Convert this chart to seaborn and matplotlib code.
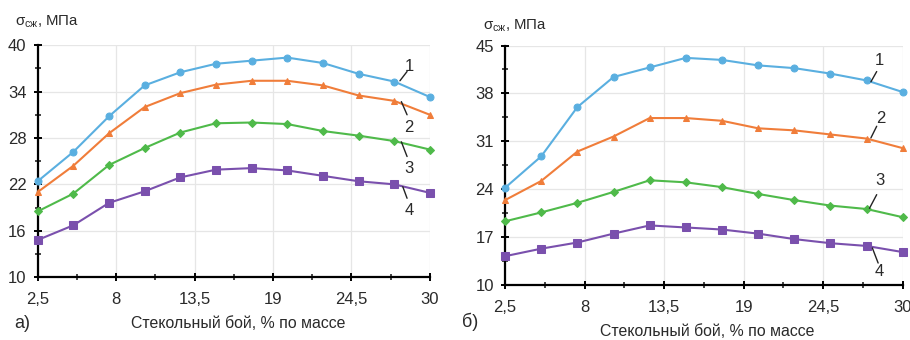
import numpy as np
import pandas as pd
import matplotlib
matplotlib.use("Agg")
import matplotlib.pyplot as plt
from matplotlib.ticker import FixedLocator
import seaborn as sns

sns.set_style("white")
plt.rcParams['font.family'] = ['Liberation Sans', 'DejaVu Sans']
plt.rcParams['mathtext.fontset'] = 'custom'
plt.rcParams['mathtext.rm'] = 'Liberation Sans'
plt.rcParams['mathtext.it'] = 'Liberation Sans'

# Glass cullet content, % by mass
cullet = [2.5, 5, 7.5, 10, 12.5, 15, 17.5, 20, 22.5, 25, 27.5, 30]

# panel a)
a_1 = [22.4, 26.2, 30.8, 34.8, 36.5, 37.6, 38.0, 38.4, 37.7, 36.3, 35.3, 33.3]
a_2 = [21.0, 24.4, 28.6, 32.0, 33.8, 34.9, 35.4, 35.4, 34.8, 33.5, 32.8, 31.0]
a_3 = [18.5, 20.8, 24.5, 26.7, 28.7, 29.9, 30.0, 29.8, 28.9, 28.3, 27.6, 26.5]
a_4 = [14.8, 16.7, 19.6, 21.1, 22.9, 23.9, 24.1, 23.8, 23.1, 22.4, 22.0, 20.9]

# panel б)
b_1 = [24.2, 28.8, 36.0, 40.4, 41.8, 43.2, 42.9, 42.1, 41.7, 40.9, 39.9, 38.2]
b_2 = [22.4, 25.2, 29.5, 31.7, 34.4, 34.4, 34.0, 32.9, 32.6, 32.0, 31.4, 30.0]
b_3 = [19.3, 20.6, 22.0, 23.6, 25.3, 25.0, 24.3, 23.3, 22.4, 21.6, 21.1, 19.9]
b_4 = [14.2, 15.3, 16.2, 17.5, 18.7, 18.4, 18.1, 17.5, 16.7, 16.1, 15.7, 14.8]

x_ticks = [2.5, 8, 13.5, 19, 24.5, 30]
x_tick_labels = ['2,5', '8', '13,5', '19', '24,5', '30']
a_yticks = [10, 16, 22, 28, 34, 40]
b_yticks = [10, 17, 24, 31, 38, 45]

curve_names = ['1', '2', '3', '4']
colors = ['#5aafe0', '#f07d3a', '#4fba4a', '#7a50ad']
markers = ['o', '^', 'D', 's']
msizes = [5, 5, 4.5, 5.5]

# label / leader positions (data coords): (line start, line end, text)
a_leaders = [((27.9, 35.4), (28.4, 36.6), (28.55, 37.3)),
             ((28.0, 32.7), (28.4, 31.0), (28.5, 29.4)),
             ((28.0, 27.5), (28.4, 25.6), (28.5, 24.0)),
             ((28.1, 21.7), (28.4, 20.2), (28.55, 18.6))]
b_leaders = [((27.8, 39.7), (28.2, 41.2), (28.4, 42.8)),
             ((27.8, 31.5), (28.2, 33.2), (28.5, 34.3)),
             ((27.7, 21.2), (28.2, 23.2), (28.4, 25.2)),
             ((27.9, 15.4), (28.3, 13.2), (28.4, 12.0))]

text_color = '#2a2a2a'

fig = plt.figure(figsize=(9.1, 3.4), dpi=100)
ax_a = fig.add_axes([0.0414, 0.185, 0.431, 0.682])
ax_b = fig.add_axes([0.555, 0.162, 0.437, 0.704])


def draw_panel(ax, series, yticks, leaders):
    for vals, c, m, ms in zip(series, colors, markers, msizes):
        df = pd.DataFrame({'x': cullet, 'y': vals})
        sns.lineplot(data=df, x='x', y='y', ax=ax, color=c, marker=m,
                     markersize=ms, markeredgecolor=c, linewidth=1.5,
                     clip_on=False, zorder=3)
    ax.set_xlim(2.5, 30)
    ax.set_ylim(yticks[0], yticks[-1])
    ax.set_xticks(x_ticks)
    ax.set_xticklabels(x_tick_labels)
    ax.set_yticks(yticks)
    step = yticks[1] - yticks[0]
    ax.yaxis.set_minor_locator(FixedLocator([t + step / 2 for t in yticks[:-1]]))
    ax.xaxis.set_minor_locator(FixedLocator([t + 2.75 for t in x_ticks[:-1]]))
    ax.grid(True, which='major', color='#e6e6e6', linewidth=0.9)
    ax.set_xlabel('')
    ax.set_ylabel('')
    for s in ['top', 'right']:
        ax.spines[s].set_visible(False)
    for s in ['left', 'bottom']:
        ax.spines[s].set_color('black')
        ax.spines[s].set_linewidth(1.6)
    ax.tick_params(which='major', direction='inout', length=6, width=1.4,
                   labelsize=12, colors='black', labelcolor=text_color,
                   bottom=True, left=True)
    ax.tick_params(axis='x', which='major', pad=8)
    ax.tick_params(axis='y', which='major', pad=5)
    ax.tick_params(which='minor', direction='inout', length=4, width=1.2,
                   bottom=True, left=True)
    for (p0, p1, pt), name in zip(leaders, curve_names):
        ax.plot([p0[0], p1[0]], [p0[1], p1[1]], color='#222222', lw=1.0,
                clip_on=False, zorder=4)
        ax.text(pt[0], pt[1], name, fontsize=12, ha='center', va='center',
                color=text_color, clip_on=False)


draw_panel(ax_a, [a_1, a_2, a_3, a_4], a_yticks, a_leaders)
draw_panel(ax_b, [b_1, b_2, b_3, b_4], b_yticks, b_leaders)

ylabel = r'$\mathregular{\sigma_{сж}}$, МПа'
fig.text(0.017, 0.935, ylabel, fontsize=10.8, ha='left', va='center', color=text_color)
fig.text(0.531, 0.924, ylabel, fontsize=10.8, ha='left', va='center', color=text_color)

xlabel = 'Стекольный бой, % по массе'
fig.text(0.262, 0.05, xlabel, fontsize=11.4, ha='center', va='center', color=text_color)
fig.text(0.777, 0.024, xlabel, fontsize=11.4, ha='center', va='center', color=text_color)

fig.text(0.016, 0.05, 'а)', fontsize=13, ha='left', va='center', color=text_color)
fig.text(0.508, 0.053, 'б)', fontsize=13, ha='left', va='center', color=text_color)

fig.savefig('out.png', dpi=100, facecolor='white')
